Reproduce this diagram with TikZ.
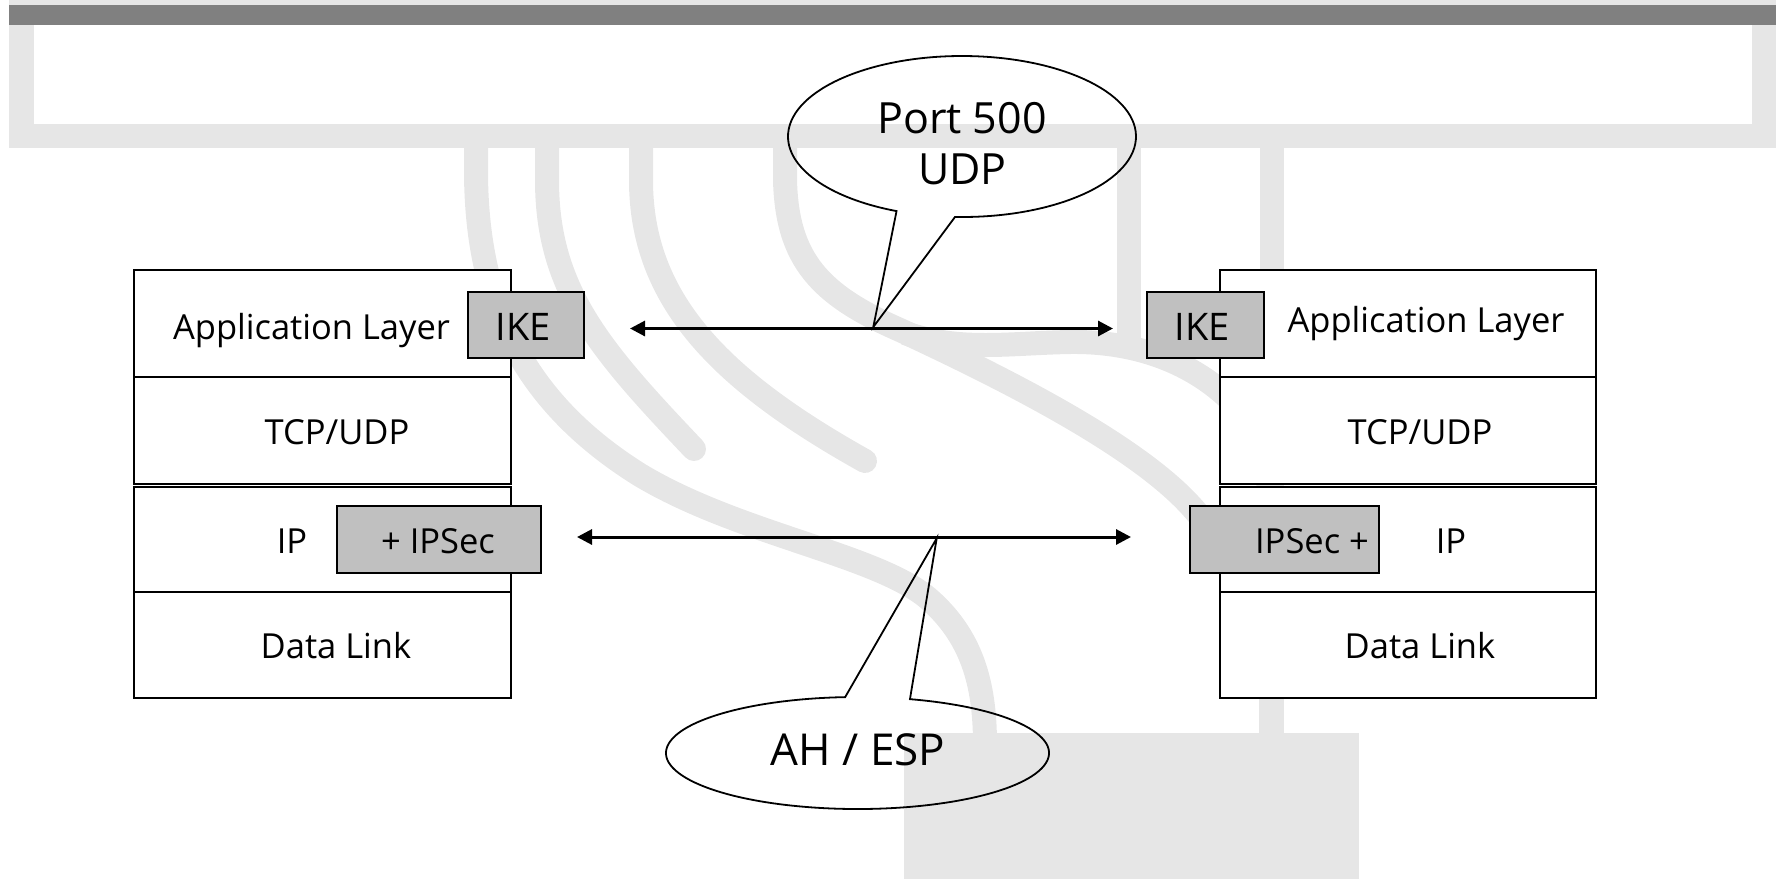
\documentclass[tikz,border=0pt]{standalone}
\usepackage{fontspec}
\setmainfont{Open Sans}
\usetikzlibrary{arrows.meta}
\definecolor{bandgray}{HTML}{E6E6E6}
\definecolor{bargray}{HTML}{808080}
\definecolor{boxgray}{HTML}{C0C0C0}

\begin{document}
\begin{tikzpicture}[x=1pt,y=-1pt,
  band/.style={draw=bandgray, line width=24pt},
  roundband/.style={band, line cap=round},
  layer/.style={draw=black, line width=1.8pt, fill=white, inner sep=0pt},
  tag/.style={draw=black, line width=1.8pt, fill=boxgray, inner sep=0pt},
  lbl/.style={anchor=base, inner sep=0pt, font=\fontsize{34.5}{40}\selectfont},
  ikelbl/.style={anchor=base, inner sep=0pt, font=\fontsize{38}{42}\selectfont},
  big/.style={anchor=base, inner sep=0pt, font=\fontsize{43}{50}\selectfont},
  link/.style={line width=3pt, {Triangle[length=15pt,width=15pt]}-{Triangle[length=15pt,width=15pt]}},
  bubble/.style={draw=black, line width=1.8pt},
]
\useasboundingbox (0,0) rectangle (1785,879);

% ---- light grey backdrop: frame, ribbons and stems ----
\fill[bandgray] (9,0) rectangle (1776,148);
\fill[white] (34,25) rectangle (1752,124);
\fill[bargray] (9,5) rectangle (1776,25);

\draw[band] (476,136) -- (476,170)
  .. controls (476,300) and (520,400) .. (640,475)
  .. controls (740,535) and (880,555) .. (930,600)
  .. controls (975,640) and (985,690) .. (985,745);
\draw[roundband] (547,136) -- (547,180)
  .. controls (547,290) and (600,350) .. (694,449);
\draw[roundband] (641,136) -- (641,180)
  .. controls (641,300) and (720,380) .. (865,461);
\draw[band] (785,136) -- (785,180)
  .. controls (787,260) and (820,295) .. (900,330)
  .. controls (990,372) and (1130,440) .. (1190,505)
  .. controls (1240,560) and (1271,620) .. (1271,700) -- (1271,745);
\draw[band] (905,333)
  .. controls (960,352) and (1010,343) .. (1070,342)
  .. controls (1140,341) and (1200,365) .. (1240,410)
  .. controls (1265,440) and (1271,480) .. (1271,540);
\draw[band] (1128.5,136) -- (1128.5,345);
\draw[band] (1271.5,136) -- (1271.5,745);
\fill[bandgray] (904,733) rectangle (1359,879);

% ---- left protocol stack ----
\node[layer, minimum width=377pt, minimum height=107pt] (appL) at (322.5,323.5) {};
\node[layer, minimum width=377pt, minimum height=107pt] (tcpL) at (322.5,430.5) {};
\node[layer, minimum width=377pt, minimum height=105pt] (ipL)  at (322.5,539.5) {};
\node[layer, minimum width=377pt, minimum height=106pt] (dlL)  at (322.5,645) {};
\node[tag, minimum width=116pt, minimum height=66pt] (ikeL) at (526,325) {};
\node[tag, minimum width=204pt, minimum height=67pt] (secL) at (439,539.5) {};

% ---- right protocol stack ----
\node[layer, minimum width=376pt, minimum height=107pt] (appR) at (1408,323.5) {};
\node[layer, minimum width=376pt, minimum height=107pt] (tcpR) at (1408,430.5) {};
\node[layer, minimum width=376pt, minimum height=105pt] (ipR)  at (1408,539.5) {};
\node[layer, minimum width=376pt, minimum height=106pt] (dlR)  at (1408,645) {};
\node[tag, minimum width=117pt, minimum height=66pt] (ikeR) at (1205.5,325) {};
\node[tag, minimum width=189pt, minimum height=67pt] (secR) at (1284.5,539.5) {};

% ---- layer labels ----
\node[lbl] (tAppL) at (311.5,339) {Application Layer};
\node[ikelbl] (tIkeL) at (523,340) {IKE};
\node[lbl] (tTcpL) at (337,444) {TCP/UDP};
\node[lbl] (tIpL) at (292,553) {IP};
\node[lbl] (tSecL) at (438,553) {+ IPSec};
\node[lbl] (tDlL) at (336,658) {Data Link};

\node[lbl] (tAppR) at (1426,332) {Application Layer};
\node[ikelbl] (tIkeR) at (1202,340) {IKE};
\node[lbl] (tTcpR) at (1420,444) {TCP/UDP};
\node[lbl] (tSecR) at (1312,553) {IPSec +};
\node[lbl] (tIpR) at (1451,553) {IP};
\node[lbl] (tDlR) at (1420,658) {Data Link};

% ---- peer-to-peer exchanges ----
\coordinate (ikeW) at (630,328.5);
\coordinate (ikeE) at (1113,328.5);
\coordinate (secW) at (577,537);
\coordinate (secE) at (1131,537);
\draw[link] (ikeW) -- (ikeE);
\draw[link] (secW) -- (secE);

% ---- speech bubbles ----
\coordinate (portTip) at (873.3,327);
\coordinate (espTip) at (936.7,538.3);
\draw[bubble] (962,136.5) ++(92.3:174 and 80.5)
  arc[start angle=92.3, end angle=-247.9, x radius=174, y radius=80.5]
  -- (portTip) -- cycle;
\draw[bubble] (857.5,753) ++(-74.1:191.5 and 56)
  arc[start angle=-74.1, end angle=266.3, x radius=191.5, y radius=56]
  -- (espTip) -- cycle;

\node[big] (tPort) at (962,133) {Port 500};
\node[big] (tUdp) at (962.5,184) {UDP};
\node[big, font=\fontsize{44}{50}\selectfont] (tEsp) at (858,765) {AH / ESP};
\end{tikzpicture}
\end{document}
